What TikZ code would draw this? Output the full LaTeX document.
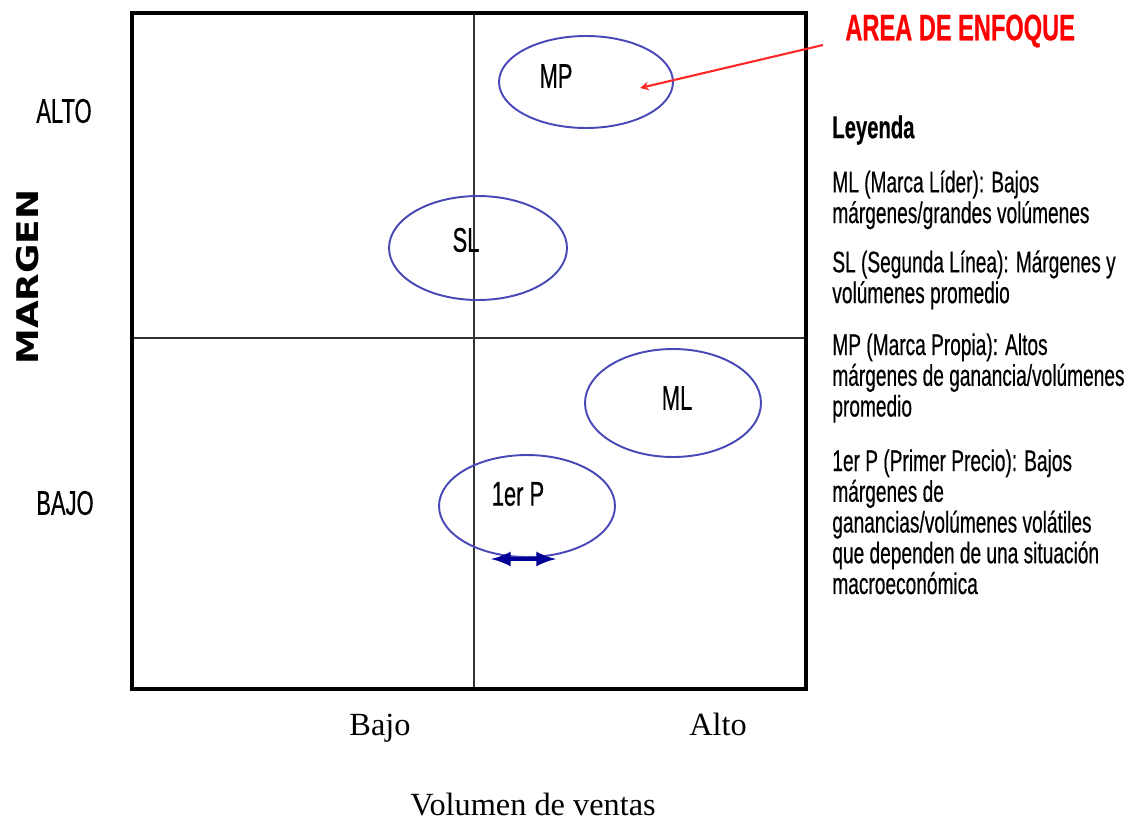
\documentclass[tikz,border=0pt]{standalone}
\usepackage{fontspec}
\setmainfont{Liberation Serif}
\newfontfamily\narrowfont[FakeStretch=0.64, FakeBold=0.4]{Liberation Sans}
\newfontfamily\heavyfont{DejaVu Sans}
\usepackage{tikz}
\usetikzlibrary{shapes, arrows, positioning}

\definecolor{ellblue}{RGB}{72,72,184}
\definecolor{navyblue}{RGB}{0,0,150}
\definecolor{focusred}{RGB}{255,40,40}

\begin{document}
\begin{tikzpicture}[x=0.02cm, y=-0.02cm]

\tikzstyle{frame} = [line width=2.5pt, black]
\tikzstyle{axis} = [line width=0.9pt, black!80]
\tikzstyle{brand} = [ellipse, draw=ellblue, line width=1.1pt, inner sep=0pt]
\tikzstyle{tag} = [font=\fontsize{19.5}{20}\narrowfont, inner sep=1pt]
\tikzstyle{legend} = [font=\fontsize{17}{17.5}\narrowfont, align=left, anchor=north west, inner sep=0pt]
\tikzstyle{axislabel} = [font=\fontsize{18.4}{20}\selectfont, inner sep=0pt, anchor=base]
\tikzstyle{arrow} = [->, >=stealth]

\useasboundingbox (0,0) rectangle (1142,822);

% frame and quadrants
\draw[axis] (474,13) -- (474,689);
\draw[axis] (132,338) -- (806,338);
\draw[frame] (132,13) rectangle (806,689);

% vertical axis
\node (margen)[rotate=90, font=\fontsize{17}{20}\heavyfont\bfseries] at (28,277) {\scalebox{1.2}[1]{MARGEN}};
\node (m_alto)[tag] at (64,111) {ALTO};
\node (m_bajo)[tag] at (65,503) {BAJO};

% horizontal axis
\node (v_bajo)[axislabel] at (380,735) {Bajo};
\node (v_alto)[axislabel] at (718,735) {Alto};
\node (volumen)[axislabel] at (533,815) {Volumen de ventas};

% brands
\node (ell_mp)[brand, minimum width=3.48cm, minimum height=1.84cm] at (586,82) {};
\node (ell_sl)[brand, minimum width=3.56cm, minimum height=2.08cm] at (478,248) {};
\node (ell_ml)[brand, minimum width=3.52cm, minimum height=2.16cm] at (673,403) {};
\node (ell_p)[brand, minimum width=3.52cm, minimum height=2.04cm] at (527,506) {};

\node (mp)[tag] at (556,76) {MP};
\node (sl)[tag] at (466,240) {SL};
\node (ml)[tag] at (677,398) {ML};
\node (primer)[tag] at (518,494) {1er P};

% price range
\coordinate (range_lo) at (491,559);
\coordinate (range_hi) at (556,559);
\draw[<->, >=latex, navyblue, line width=2.8pt] (range_lo) -- (range_hi);

% focus area
\node (area)[font=\fontsize{21}{22}\narrowfont\bfseries, text=red, anchor=west, inner sep=0pt] at (845,31) {AREA DE ENFOQUE};
\coordinate (area_tail) at (823,45);
\coordinate (focus) at (640,88);
\draw[arrow, focusred, line width=1.2pt] (area_tail) -- (focus);

% legend
\node (leyenda)[legend, anchor=west, font=\fontsize{18}{18}\narrowfont\bfseries] at (832,130) {Leyenda};
\node (leg_ml)[legend] at (832,170) {ML (Marca Líder): Bajos\\márgenes/grandes volúmenes};
\node (leg_sl)[legend] at (832,250) {SL (Segunda Línea): Márgenes y\\volúmenes promedio};
\node (leg_mp)[legend] at (832,333) {MP (Marca Propia): Altos\\márgenes de ganancia/volúmenes\\promedio};
\node (leg_p)[legend] at (832,449) {1er P (Primer Precio): Bajos\\márgenes de\\ganancias/volúmenes volátiles\\que dependen de una situación\\macroeconómica};

\end{tikzpicture}
\end{document}
